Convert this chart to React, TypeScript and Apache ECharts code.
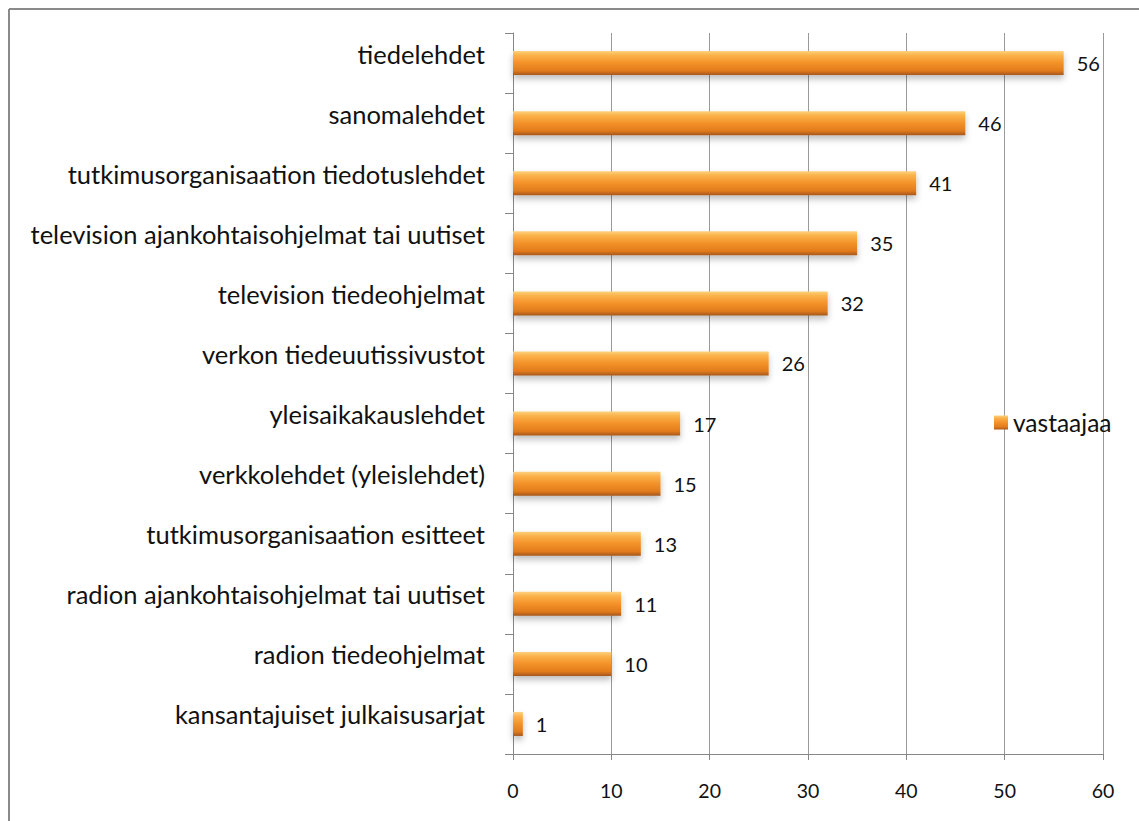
import React, { useEffect, useRef } from "react";
import * as echarts from "echarts";

const categories = [
  "tiedelehdet",
  "sanomalehdet",
  "tutkimusorganisaation tiedotuslehdet",
  "television ajankohtaisohjelmat tai uutiset",
  "television tiedeohjelmat",
  "verkon tiedeuutissivustot",
  "yleisaikakauslehdet",
  "verkkolehdet (yleislehdet)",
  "tutkimusorganisaation esitteet",
  "radion ajankohtaisohjelmat tai uutiset",
  "radion tiedeohjelmat",
  "kansantajuiset julkaisusarjat",
];
const values = [56, 46, 41, 35, 32, 26, 17, 15, 13, 11, 10, 1];
const seriesName = "vastaajaa";

const FONT = "Lato, 'Open Sans', sans-serif";

export default function App() {
  const ref = useRef<HTMLDivElement>(null);
  useEffect(() => {
    if (!ref.current) return;
    const chart = echarts.init(ref.current, undefined, { renderer: "svg" });
    const barGrad = new echarts.graphic.LinearGradient(0, 0, 0, 1, [
      { offset: 0, color: "#fcd27e" },
      { offset: 0.18, color: "#fbb24a" },
      { offset: 0.5, color: "#f39228" },
      { offset: 0.82, color: "#e27b1c" },
      { offset: 1, color: "#a5571a" },
    ]);
    chart.setOption({
      animation: false,
      backgroundColor: "#ffffff",
      textStyle: { fontFamily: FONT },
      graphic: [
        {
          type: "line",
          shape: { x1: 9, y1: 9, x2: 1139, y2: 9 },
          style: { stroke: "#8a8a8a", lineWidth: 2 },
        },
        {
          type: "line",
          shape: { x1: 9, y1: 9, x2: 9, y2: 821 },
          style: { stroke: "#8a8a8a", lineWidth: 2 },
        },
      ],
      legend: {
        left: 989,
        top: 405,
        itemWidth: 14,
        itemHeight: 14,
        itemGap: 6,
        icon: "rect",
        textStyle: { fontFamily: FONT, fontSize: 24.5, color: "#111" },
        data: [seriesName],
      },
      grid: { left: 513, right: 36, top: 33, bottom: 67 },
      xAxis: {
        type: "value",
        min: 0,
        max: 60,
        interval: 10,
        axisLine: { show: true, lineStyle: { color: "#868686", width: 1 } },
        axisTick: { show: true, length: 6, lineStyle: { color: "#868686" } },
        axisLabel: { fontFamily: FONT, fontSize: 19.5, color: "#111", margin: 26 },
        splitLine: { show: true, lineStyle: { color: "#9a9a9a", width: 1 } },
      },
      yAxis: {
        type: "category",
        inverse: true,
        data: categories,
        axisLine: { show: true, lineStyle: { color: "#868686", width: 1 } },
        axisTick: { show: true, length: 8, inside: false, lineStyle: { color: "#868686" } },
        axisLabel: {
          fontFamily: FONT,
          fontSize: 25.5,
          color: "#111",
          margin: 28,
          verticalAlign: "bottom",
          lineHeight: 19,
        },
      },
      series: [
        {
          name: seriesName,
          type: "bar",
          data: values,
          barWidth: 24,
          itemStyle: {
            color: barGrad,
            shadowColor: "rgba(0,0,0,0.25)",
            shadowBlur: 6,
            shadowOffsetY: 4,
          },
          label: {
            show: true,
            position: "right",
            distance: 13,
            fontFamily: FONT,
            fontSize: 20,
            color: "#111",
            padding: [4, 0, 0, 0],
          },
        },
      ],
    });
    return () => chart.dispose();
  }, []);
  return (
    <div
      ref={ref}
      style={{ position: "fixed", left: 0, top: 0, width: 1139, height: 821 }}
    />
  );
}
